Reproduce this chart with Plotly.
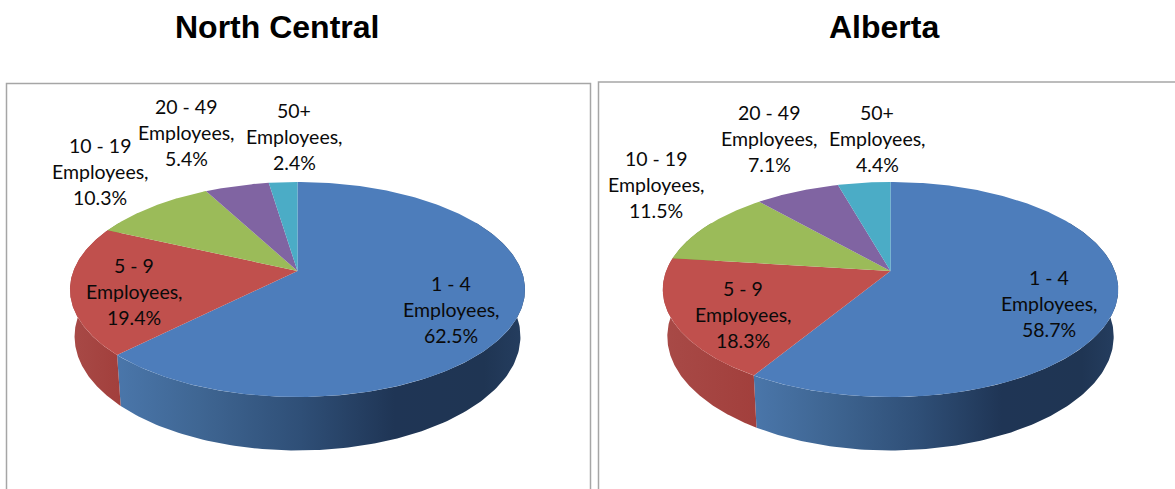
import numpy as np
import plotly.graph_objects as go

# ---- data ----
categories = ["1 - 4", "5 - 9", "10 - 19", "20 - 49", "50+"]
north_central = [62.5, 19.4, 10.3, 5.4, 2.4]
alberta = [58.7, 18.3, 11.5, 7.1, 4.4]
titles = ["North Central", "Alberta"]

# ---- style ----
top_colors = ["#4d7dbb", "#c0504d", "#9bbb59", "#8064a2", "#4bacc6"]
side_scales = [
    [[0, "#4a76aa"], [0.2, "#3f6693"], [0.45, "#2f4f77"], [0.68, "#1f3555"], [0.9, "#1f3553"], [1, "#253e60"]],
    [[0, "#a84a47"], [1, "#a23f3c"]],
    [[0, "#7d9a45"], [1, "#7d9a45"]],
    [[0, "#66508a"], [1, "#66508a"]],
    [[0, "#3a8ea5"], [1, "#3a8ea5"]],
]
FONT = "Lato"
LABEL_SIZE = 19.5
LINE_GAP = 26

pies = [
    dict(values=north_central, x0=297.5, xl=70, xr=525, top=182, apex=271, bottom=397,
         label_x=[451, 134, 100, 186, 294], label_y=[309, 291, 171, 132, 136]),
    dict(values=alberta, x0=890.5, xl=663, xr=1118.5, top=182, apex=271, bottom=397,
         label_x=[1049, 743, 656, 769, 877], label_y=[303, 314, 184, 138, 138]),
]
LOWER_SHIFT = 47
LOWER_SCALE_X = 0.98
LOWER_SCALE_Y = 1.06
WALL_FROM, WALL_TO = np.radians(60), np.radians(300)


def projector(p):
    """Perspective map of the unit disc onto the tilted pie's top face."""
    t, m, b = p["top"], p["apex"], p["bottom"]
    # y = (A v + m) / (1 + C v), y(-1) = t, y(1) = b
    C = (2 * m - t - b) / (b - t)
    A = b + b * C - m
    half = (p["xr"] - p["xl"]) / 2
    R = half * np.sqrt(1 - C * C)
    yc = (t + b) / 2

    def proj(theta, lower=False):
        u, v = np.sin(theta), -np.cos(theta)
        d = 1 + C * v
        x = R * u / d
        y = (A * v + m) / d
        if lower:
            x = LOWER_SCALE_X * x
            y = yc + LOWER_SHIFT + LOWER_SCALE_Y * (y - yc)
        return p["x0"] + x, y

    return proj


fig = go.Figure()

for p in pies:
    proj = projector(p)
    edges = np.radians(np.concatenate([[0], np.cumsum(p["values"])]) * 3.6)
    # side walls of slices facing the viewer
    for i in range(len(p["values"])):
        a0, a1 = max(edges[i], WALL_FROM), min(edges[i + 1], WALL_TO)
        if a1 <= a0:
            continue
        th = np.linspace(a0, a1, 160)
        xt, yt = proj(th)
        xb, yb = proj(th[::-1], lower=True)
        fig.add_trace(go.Scatter(
            x=np.concatenate([xt, xb]).tolist(), y=np.concatenate([yt, yb]).tolist(),
            mode="lines", line=dict(width=0), fill="toself",
            fillgradient=dict(type="horizontal", colorscale=side_scales[i]),
            hoverinfo="skip", showlegend=False))
    # top faces
    ay = p["apex"]
    for i in range(len(p["values"])):
        th = np.linspace(edges[i], edges[i + 1], 240)
        xt, yt = proj(th)
        fig.add_trace(go.Scatter(
            x=[p["x0"]] + xt.tolist() + [p["x0"]], y=[ay] + yt.tolist() + [ay],
            mode="lines", line=dict(width=0), fill="toself", fillcolor=top_colors[i],
            hoverinfo="skip", showlegend=False))

annotations = []
for p in pies:
    for cat, val, lx, ly in zip(categories, p["values"], p["label_x"], p["label_y"]):
        for k, line in enumerate([cat, "Employees,", f"{val}%"]):
            annotations.append(dict(
                x=lx, y=ly + (k - 1) * LINE_GAP, text=line, showarrow=False,
                xanchor="center", yanchor="middle",
                font=dict(family=FONT, size=LABEL_SIZE, color="#0a0a0a")))

for title, tx in zip(titles, [276.5, 883.5]):
    annotations.append(dict(x=tx, y=27, text=f"<b>{title}</b>", showarrow=False,
                            xanchor="center", yanchor="middle",
                            font=dict(family="Liberation Sans", size=32, color="#000000")))

box = dict(color="#a6a6a6", width=1.5)
shapes = [
    dict(type="path", path="M 6.5 489 L 6.5 83.5 L 590.5 83.5 L 590.5 489", line=box, layer="below"),
    dict(type="path", path="M 598.5 489 L 598.5 82 L 1175 82", line=box, layer="below"),
]

fig.update_layout(
    width=1175, height=489, margin=dict(l=0, r=0, t=0, b=0),
    paper_bgcolor="white", plot_bgcolor="white", showlegend=False,
    xaxis=dict(range=[0, 1175], visible=False, fixedrange=True),
    yaxis=dict(range=[489, 0], visible=False, fixedrange=True),
    annotations=annotations, shapes=shapes,
)

fig.write_html("out.html", post_script="document.body.style.margin='0';",
               config={"displayModeBar": False})
